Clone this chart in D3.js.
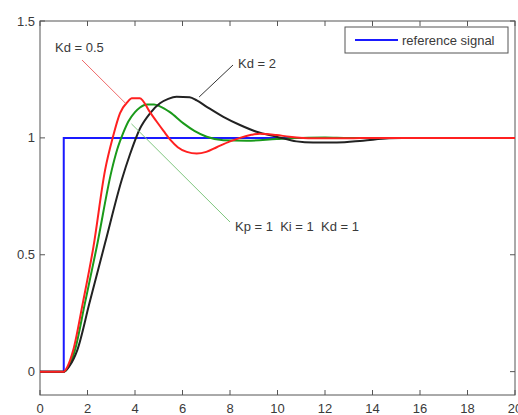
<!DOCTYPE html>
<html><head><meta charset="utf-8">
<script src="https://cdn.jsdelivr.net/npm/d3@7/dist/d3.min.js"></script>
<style>body{margin:0;background:#fff}svg{display:block}text{font-family:"Liberation Sans",Arial,sans-serif}</style>
</head><body><svg id="c" width="518" height="415"></svg>
<script>
const xTicks = [0,2,4,6,8,10,12,14,16,18,20];
const yTicks = [0,0.5,1,1.5];
const yTickLabels = ["0","0.5","1","1.5"];

const refT = [0,1,1,20];
const refY = [0,0,1,1];

const greenT = [0,1.0,1.2,1.47,1.89,2.39,3.02,3.25,3.5,3.72,4.0,4.21,4.5,4.8,5.05,5.47,6.04,6.5,7.02,7.72,8.7,9.96,11,12,13,16];
const greenY = [0,0,0.02,0.092,0.292,0.534,0.862,0.95,1.02,1.07,1.11,1.13,1.143,1.143,1.135,1.11,1.062,1.03,1.005,0.99,0.988,0.995,1.0,1.002,1.0,1.0];

const blackT = [0,1.0,1.25,1.57,2.08,2.74,3.44,3.79,4.21,4.63,5.05,5.4,5.75,6.3,6.6,7.02,7.72,8.42,9.12,9.96,10.8,11.5,12.5,13.6,14.7,16];
const blackY = [0,0,0.025,0.092,0.292,0.55,0.82,0.93,1.04,1.105,1.148,1.167,1.176,1.174,1.16,1.133,1.09,1.055,1.026,1.005,0.985,0.98,0.98,0.988,0.998,1.0];

const redT = [0,1.0,1.15,1.4,1.8,2.25,2.74,3.06,3.37,3.7,3.86,4.2,4.63,4.91,5.2,5.5,5.8,6.18,6.6,7.0,7.44,8.0,8.42,8.9,9.26,9.96,10.5,11.5,13,14,20];
const redY = [0,0,0.02,0.092,0.292,0.534,0.862,1.0,1.106,1.155,1.17,1.17,1.11,1.07,1.03,0.99,0.96,0.94,0.933,0.94,0.96,0.985,1.0,1.013,1.018,1.012,1.005,0.998,0.998,1.0,1.0];

const svg = d3.select("#c");
const x = d3.scaleLinear().domain([0,20]).range([40,515]);
const y = d3.scaleLinear().domain([-0.1,1.5]).range([395,21]);
const axisCol = "#555", textCol = "#3a3a3a";

const g = svg.append("g");
g.append("rect").attr("x",x(0)).attr("y",y(1.5)).attr("width",x(20)-x(0)).attr("height",y(-0.1)-y(1.5))
  .attr("fill","none").attr("stroke",axisCol).attr("stroke-width",1);

const tl = 5;
xTicks.forEach(v=>{
  g.append("line").attr("x1",x(v)).attr("x2",x(v)).attr("y1",y(-0.1)).attr("y2",y(-0.1)-tl).attr("stroke",axisCol);
  g.append("line").attr("x1",x(v)).attr("x2",x(v)).attr("y1",y(1.5)).attr("y2",y(1.5)+tl).attr("stroke",axisCol);
  g.append("text").attr("x",x(v)).attr("y",y(-0.1)+18).attr("text-anchor","middle").attr("font-size",13).attr("fill",textCol).text(v);
});
yTicks.forEach((v,i)=>{
  g.append("line").attr("x1",x(0)).attr("x2",x(0)+tl).attr("y1",y(v)).attr("y2",y(v)).attr("stroke",axisCol);
  g.append("line").attr("x1",x(20)).attr("x2",x(20)-tl).attr("y1",y(v)).attr("y2",y(v)).attr("stroke",axisCol);
  g.append("text").attr("x",x(0)-5).attr("y",y(v)).attr("dy","0.35em").attr("text-anchor","end").attr("font-size",13).attr("fill",textCol).text(yTickLabels[i]);
});

const line = d3.line().x(d=>x(d[0])).y(d=>y(d[1]));
const smooth = d3.line().x(d=>x(d[0])).y(d=>y(d[1])).curve(d3.curveMonotoneX);
const zip = (a,b)=>a.map((v,i)=>[v,b[i]]);

g.append("path").attr("d",line(zip(refT,refY))).attr("fill","none").attr("stroke","#1a1aff").attr("stroke-width",2);
g.append("path").attr("d",smooth(zip(greenT,greenY))).attr("fill","none").attr("stroke","#1a9a1a").attr("stroke-width",2);
g.append("path").attr("d",smooth(zip(blackT,blackY))).attr("fill","none").attr("stroke","#222").attr("stroke-width",2);
g.append("path").attr("d",smooth(zip(redT,redY))).attr("fill","none").attr("stroke","#ff2020").attr("stroke-width",2);

function ann(t0,v0,px,py,col,label,tx,ty){
  g.append("line").attr("x1",x(t0)).attr("y1",y(v0)).attr("x2",px).attr("y2",py).attr("stroke",col).attr("stroke-width",1);
  g.append("text").attr("x",tx).attr("y",ty).attr("dy","0.35em").attr("font-size",13).attr("fill",textCol).attr("xml:space","preserve").text(label);
}
ann(3.6,1.148,82,60,"#f06a6a","Kd = 0.5",55,47);
ann(6.7,1.175,233,65,"#333","Kd = 2",238,63);
ann(3.85,1.06,230,222,"#7fc77f","Kp = 1  Ki = 1  Kd = 1",235,226);

const lg = svg.append("g");
lg.append("rect").attr("x",345).attr("y",27).attr("width",163).attr("height",26).attr("fill","#fff").attr("stroke",axisCol);
lg.append("line").attr("x1",355).attr("x2",398).attr("y1",40).attr("y2",40).attr("stroke","#1a1aff").attr("stroke-width",2);
lg.append("text").attr("x",402).attr("y",40).attr("dy","0.35em").attr("font-size",13).attr("fill",textCol).text("reference signal");
</script></body></html>
